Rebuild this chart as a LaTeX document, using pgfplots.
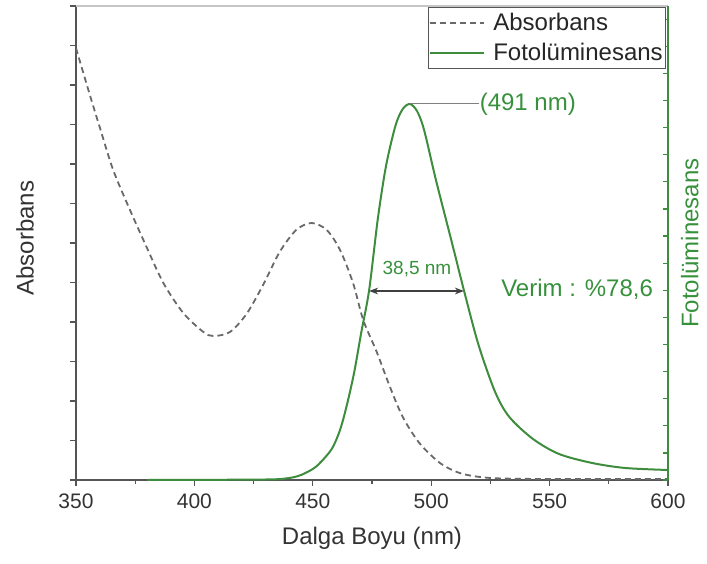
\documentclass[border=0pt]{standalone}
\usepackage{fontspec}
\setmainfont{Liberation Sans}
\usepackage{pgfplots}
\pgfplotsset{compat=1.18}
\usetikzlibrary{arrows.meta}
\definecolor{pgreen}{RGB}{62,140,62}
\definecolor{tgreen}{RGB}{55,145,60}
\definecolor{agray}{RGB}{85,85,85}
\definecolor{dgray}{RGB}{105,105,105}
\begin{document}
\begin{tikzpicture}
\begin{axis}[
 scale only axis, width=592pt, height=474pt,
 xmin=350, xmax=600, ymin=0, ymax=474,
 axis x line*=bottom, axis y line*=left,
 axis line style={agray, line width=1.6pt, -},
 xtick={350,400,...,600}, minor x tick num=1,
 ytick={0,39.5,...,474}, yticklabels={},
 tick align=outside, major tick length=6pt, minor tick length=4pt,
 tick style={agray, line width=1.2pt},
 /pgf/number format/assume math mode=true,
 ticklabel style={font=\fontsize{21}{24}\selectfont, text=black!80},
 xticklabel style={yshift=-4pt},
 xlabel={Dalga Boyu (nm)}, ylabel={Absorbans},
 label style={font=\fontsize{24}{28}\selectfont, text=black!80},
 xlabel style={at={(axis description cs:0.5,-0.122)}, anchor=center},
 ylabel style={at={(axis description cs:-0.0861,0.51)}, anchor=center},
]
\draw[gray!45, line width=1.2pt] (rel axis cs:0,1) -- (rel axis cs:1,1);
\addplot[dgray, line width=1.8pt, dash pattern=on 6pt off 4pt, smooth, tension=0.5] table {
x y
350 432
355.6 387
360 353
365.7 310
372.8 270
379.8 233
386.9 197
395.3 167
403.8 148
408 144
415 148
422 166
429 195
436 228
443 250
449.5 257
455.9 250
461.5 230
467 197
471.3 160
477 128
482.6 93
488 63
495 37
503.7 17
512 7
520.6 3
530 1.5
550 1
600 1
};
\end{axis}
\begin{axis}[
 scale only axis, width=592pt, height=474pt,
 xmin=350, xmax=600, ymin=0, ymax=474,
 axis x line=none, axis y line*=right,
 axis line style={pgreen, line width=1.6pt, -},
 ytick={0,27.1,...,461}, yticklabels={},
 tick align=inside, major tick length=5pt, tick style={pgreen, line width=1.2pt},
 ylabel={Fotolüminesans},
 ylabel style={at={(axis description cs:1.037,0.5)}, anchor=center, font=\fontsize{24}{28}\selectfont, text=tgreen},
 clip=false,
 legend style={at={(axis description cs:0.997,0.998)}, anchor=north east, draw=agray, line width=1pt, font=\fontsize{24}{26}\selectfont, inner xsep=1pt, inner ysep=4pt, row sep=7pt, cells={anchor=west}, text=black!85},
 legend image code/.code={\draw[#1] (-2pt,0pt) -- (52pt,0pt);},
]
\addlegendimage{dgray, line width=1.8pt, dash pattern=on 6pt off 4pt}
\addlegendentry{\hspace{6pt}Absorbans}
\addplot[pgreen, line width=2pt, smooth, tension=0.5] table {
x y
380 0
430 0.5
440 2
445 5
450 11
453 17
458 31
461.5 50
464.5 76
467.5 108
470.5 148
473.8 190
477.5 262
481 315
485 355
488 371
491 376
494 369
497 350
502 300
509 235
514 188
520 135
527 88
533 63
543 41
554 26
568 17
582 12
600 10
};
\addlegendentry{\hspace{6pt}Fotolüminesans}
\draw[gray, line width=1pt] (axis cs:491,376) -- (axis cs:520,376);
\node[anchor=west, text=tgreen, font=\fontsize{24}{28}\selectfont, inner sep=1pt] at (axis cs:520,376) {(491 nm)};
\draw[black!75, line width=1.2pt, {Stealth[length=9pt]}-{Stealth[length=9pt]}] (axis cs:473.8,189) -- (axis cs:513.8,189);
\node[text=tgreen, font=\fontsize{19}{22}\selectfont] at (axis cs:494,211) {38,5 nm};
\node[anchor=west, text=tgreen, font=\fontsize{24}{28}\selectfont, inner sep=0pt] at (axis cs:529.5,191) {Verim : \%78,6};
\end{axis}
\pgfresetboundingbox
\useasboundingbox (-76pt,-83pt) rectangle (631pt,480pt);
\end{tikzpicture}
\end{document}
